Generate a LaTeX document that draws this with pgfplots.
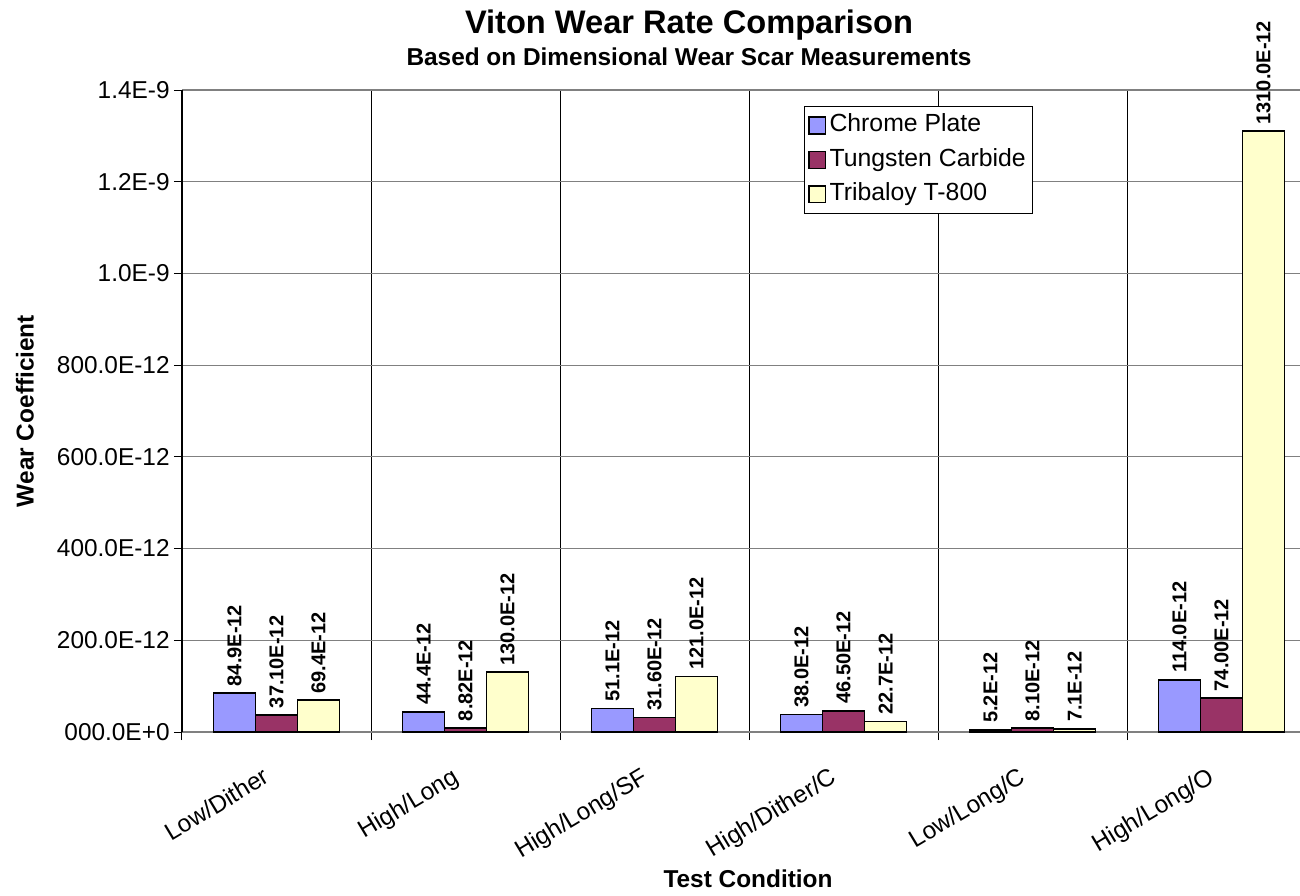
\documentclass[border=0pt]{standalone}
\usepackage{fontspec}
\setmainfont{Liberation Sans}
\usepackage{pgfplots}
\pgfplotsset{compat=1.18}
\usepackage{pgfplotstable}
\definecolor{chrome}{HTML}{9999FF}
\definecolor{tung}{HTML}{993366}
\definecolor{trib}{HTML}{FFFFCC}
\definecolor{gridgray}{HTML}{808080}

\pgfplotstableread{
x y label
0 84.9 84.9E-12
1 44.4 44.4E-12
2 51.1 51.1E-12
3 38.0 38.0E-12
4 5.2 5.2E-12
5 114.0 114.0E-12
}\chromedata
\pgfplotstableread{
x y label
0 37.1 37.10E-12
1 8.82 8.82E-12
2 31.6 31.60E-12
3 46.5 46.50E-12
4 8.1 8.10E-12
5 74.0 74.00E-12
}\tungdata
\pgfplotstableread{
x y label
0 69.4 69.4E-12
1 130.0 130.0E-12
2 121.0 121.0E-12
3 22.7 22.7E-12
4 7.1 7.1E-12
5 1310.0 1310.0E-12
}\tribdata

\begin{document}
\begin{tikzpicture}
\begin{axis}[
  scale only axis,
  width=559pt, height=321pt,
  xmin=-0.5, xmax=5.415, ymin=0, ymax=1400,
  enlarge x limits=false, enlarge y limits=false,
  clip=false,
  axis x line*=bottom, axis y line*=left,
  axis line style={-},
  x axis line style={draw=gridgray, line width=0.6pt},
  y axis line style={draw=black, line width=0.6pt},
  ybar=0pt, bar width=21pt,
  xtick={0,...,5},
  xticklabels={Low/Dither,High/Long,High/Long/SF,High/Dither/C,Low/Long/C,High/Long/O},
  major x tick style={draw=none},
  minor xtick={-0.5,0.5,1.5,2.5,3.5,4.5},
  xminorgrids=true, xmajorgrids=false,
  minor x grid style={black, line width=0.5pt},
  ytick={0,200,...,1400},
  yticklabels={000.0E+0,200.0E-12,400.0E-12,600.0E-12,800.0E-12,1.0E-9,1.2E-9,1.4E-9},
  ymajorgrids=true,
  major y grid style={gridgray, line width=0.6pt},
  tick align=outside,
  major tick length=4pt, minor tick length=4pt,
  tick style={black, line width=0.5pt},
  tick label style={font=\fontsize{12.2}{14}\selectfont},
  xticklabel style={rotate=31, anchor=north east, inner sep=1pt, xshift=-11.9pt, yshift=-6.4pt},
  yticklabel style={inner sep=2pt},
  legend style={at={(0.556,0.975)}, anchor=north west, draw=black, line width=0.5pt,
    font=\fontsize{12.4}{14}\selectfont, row sep=2.3pt, inner sep=2pt,
    nodes={inner sep=1.6pt, text height=9pt, text depth=2.7pt}},
  legend cell align=left,
  legend image code/.code={\draw[#1, line width=0.7pt] (0pt,-4.2pt) rectangle (8.4pt,4.2pt);},
  point meta=explicit symbolic,
  nodes near coords={\pgfplotspointmeta},
  every node near coord/.append style={rotate=90, anchor=west, inner sep=3pt,
    font=\bfseries\fontsize{10}{12}\selectfont, black},
]
\addplot[draw=black, line width=0.9pt, fill=chrome] table[x=x, y=y, meta=label] {\chromedata};
\addplot[draw=black, line width=0.9pt, fill=tung] table[x=x, y=y, meta=label] {\tungdata};
\addplot[draw=black, line width=0.9pt, fill=trib] table[x=x, y=y, meta=label] {\tribdata};
\legend{Chrome Plate, Tungsten Carbide, Tribaloy T-800}
\coordinate (O) at (rel axis cs:0,0);
\node[anchor=base, font=\bfseries\fontsize{16.3}{19}\selectfont] at ([yshift=28.5pt]rel axis cs:0.4535,1) {Viton Wear Rate Comparison};
\node[anchor=base, font=\bfseries\fontsize{12.2}{14}\selectfont] at ([yshift=12.5pt]rel axis cs:0.4535,1) {Based on Dimensional Wear Scar Measurements};
\node[anchor=base, font=\bfseries\fontsize{12.2}{14}\selectfont] at ([yshift=-77.5pt]rel axis cs:0.5063,0) {Test Condition};
\node[anchor=center, rotate=90, font=\bfseries\fontsize{12.2}{14}\selectfont] at ([xshift=-78.5pt]rel axis cs:0,0.5) {Wear Coefficient};
\end{axis}
\pgfresetboundingbox
\useasboundingbox ([xshift=-91pt,yshift=-81.5pt]O) rectangle ++(650pt,447.5pt);
\end{tikzpicture}
\end{document}
